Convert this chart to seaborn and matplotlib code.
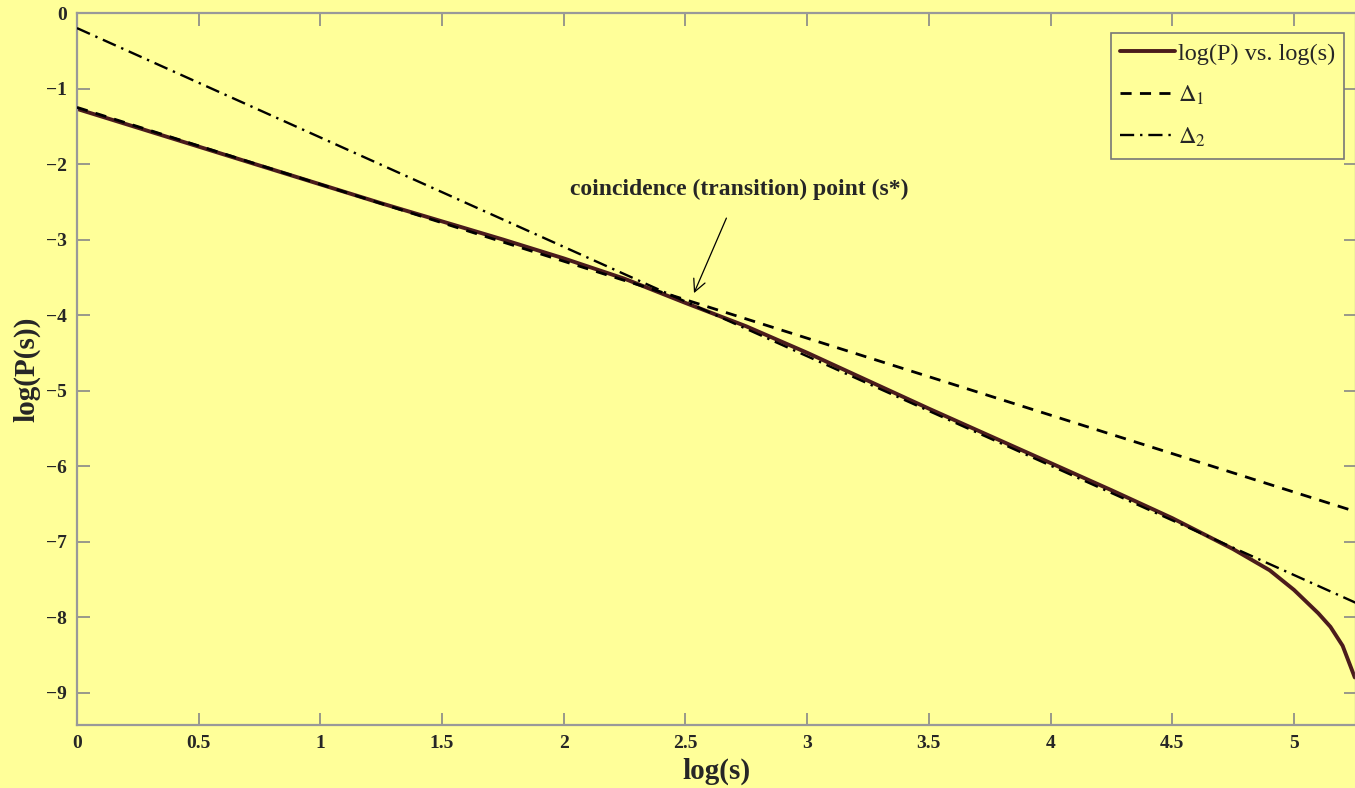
import matplotlib
matplotlib.use("Agg")
import matplotlib.pyplot as plt
import seaborn as sns
import numpy as np
import pandas as pd

log_s = [0, 0.25, 0.5, 0.75, 1, 1.25, 1.5, 1.75, 2, 2.25, 2.5, 2.75, 3, 3.25,
         3.5, 3.75, 4, 4.25, 4.5, 4.75, 4.9, 5.0, 5.1, 5.15, 5.2, 5.25]
log_p = [-1.27, -1.52, -1.77, -2.02, -2.27, -2.52, -2.76, -3.0, -3.25, -3.52,
         -3.84, -4.15, -4.5, -4.87, -5.24, -5.6, -5.96, -6.32, -6.69, -7.1,
         -7.38, -7.64, -7.95, -8.13, -8.38, -8.8]

# fitted lines (end points)
d1_x = [0, 5.26]
d1_y = [-1.25, -6.61]
d2_x = [0, 5.26]
d2_y = [-0.2, -7.82]

xticks = [0, 0.5, 1, 1.5, 2, 2.5, 3, 3.5, 4, 4.5, 5]
xticklabels = ['0', '0.5', '1', '1.5', '2', '2.5', '3', '3.5', '4', '4.5', '5']
yticks = [0, -1, -2, -3, -4, -5, -6, -7, -8, -9]
yticklabels = ['0', '\u22121', '\u22122', '\u22123', '\u22124', '\u22125',
               '\u22126', '\u22127', '\u22128', '\u22129']

bg = '#FFFF99'
sns.set_style('ticks')
plt.rcParams['font.family'] = ['Liberation Serif', 'DejaVu Serif']
plt.rcParams['mathtext.fontset'] = 'stix'

fig = plt.figure(figsize=(13.55, 7.88), dpi=100, facecolor=bg)
ax = fig.add_axes([77/1355, 63/788, 1279/1355, 712/788])
ax.set_facecolor(bg)

curve = pd.DataFrame({'x': log_s, 'y': log_p})
sns.lineplot(data=curve, x='x', y='y', ax=ax, color='#4B1C1C', lw=2.8,
             label='log(P) vs. log(s)', zorder=2)
sns.lineplot(x=d1_x, y=d1_y, ax=ax, color='black', lw=2.0,
             linestyle=(0, (4, 3)), label=r'$\Delta_1$', zorder=3)
sns.lineplot(x=d2_x, y=d2_y, ax=ax, color='black', lw=1.7,
             linestyle=(0, (6, 2.5, 1, 2.5)), label=r'$\Delta_2$', zorder=3)

ax.set_xlim(0, 5.255)
ax.set_ylim(-9.43, 0)
ax.set_xticks(xticks)
ax.set_xticklabels(xticklabels, fontweight='bold', fontsize=14)
ax.set_yticks(yticks)
ax.set_yticklabels(yticklabels, fontweight='bold', fontsize=14)
ax.tick_params(direction='in', length=9, width=1.2, color='#888888',
               top=True, right=True, pad=7)
for sp in ax.spines.values():
    sp.set_color('#999999')
    sp.set_linewidth(1.6)

ax.set_xlabel('log(s)', fontsize=21, fontweight='bold', labelpad=4)
ax.set_ylabel('log(P(s))', fontsize=21, fontweight='bold', labelpad=4)

ax.annotate('coincidence (transition) point (s*)', xy=(2.535, -3.71),
            xytext=(2.72, -2.33), ha='center', va='center',
            fontsize=17, fontweight='bold',
            arrowprops=dict(arrowstyle='->', color='black', lw=0.9,
                            mutation_scale=22, shrinkA=12, shrinkB=0))

leg = ax.legend(loc='upper right', bbox_to_anchor=(0.991, 0.972),
                borderaxespad=0, fontsize=17.5, handlelength=2.25,
                handletextpad=0.1, borderpad=0.4, labelspacing=0.78,
                fancybox=False, framealpha=1, facecolor=bg,
                edgecolor='#777777')
leg.get_frame().set_linewidth(1.2)

fig.savefig('out.png', dpi=100, facecolor=bg)
